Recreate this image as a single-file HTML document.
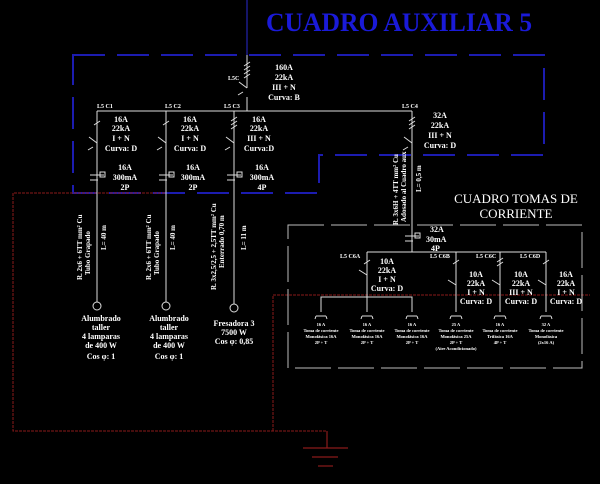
<!DOCTYPE html>
<html><head><meta charset="utf-8"><style>
html,body{margin:0;padding:0;background:#000;}
svg{display:block}
text{font-family:"Liberation Serif",serif;fill:#fff;}
.b text{font-weight:bold}
</style></head><body>
<svg width="600" height="484" viewBox="0 0 600 484" xmlns="http://www.w3.org/2000/svg">
<rect width="600" height="484" fill="#000"/>
<text x="399" y="31" font-size="26" font-weight="bold" text-anchor="middle" textLength="266" lengthAdjust="spacingAndGlyphs" style="fill:#1a1ad8">CUADRO AUXILIAR 5</text>
<line x1="247" y1="0" x2="247" y2="55" stroke="#2a2ad0" stroke-width="1"/>
<path d="M73 55 H544 V155 H319 V193 H73 Z" fill="none" stroke="#1c1cb0" stroke-width="2" stroke-dasharray="32 12"/>
<g fill="none" stroke="#8a1a1a" stroke-width="1" stroke-dasharray="3 1">
<path d="M165 193 H13 V431 H327"/>
<path d="M273 431 V295 H590"/>
</g>
<g stroke="#8a1a1a" stroke-width="1.2">
<line x1="327" y1="431" x2="327" y2="448"/>
<line x1="303" y1="448" x2="348" y2="448"/>
<line x1="312" y1="457" x2="338" y2="457"/>
<line x1="318" y1="466" x2="333" y2="466"/>
</g>
<g stroke="#ddd" stroke-width="1" fill="none">
<line x1="247" y1="55" x2="247" y2="88"/>
<line x1="247" y1="97" x2="247" y2="111"/>
<line x1="97" y1="111" x2="412" y2="111"/>
<line x1="97" y1="111" x2="97" y2="302"/>
<line x1="166" y1="111" x2="166" y2="302"/>
<line x1="234" y1="111" x2="234" y2="304"/>
<line x1="412" y1="111" x2="412" y2="252"/>
<circle cx="97" cy="306" r="4"/>
<circle cx="166" cy="306" r="4"/>
<circle cx="234" cy="308" r="4"/>
<path d="M247 88 l-8 -6 M243 92 l-5 3"/>
<path d="M97 143 l-8 -6 M93 147 l-5 3 M166 143 l-8 -6 M162 147 l-5 3 M234 143 l-8 -6 M230 147 l-5 3 M412 143 l-8 -6 M408 147 l-5 3"/>
<path d="M90 175 h14 M90 180 h8 M159 175 h14 M159 180 h8 M227 175 h14 M227 180 h8"/>
<rect x="100" y="172" width="5" height="5"/><rect x="169" y="172" width="5" height="5"/><rect x="237" y="172" width="5" height="5"/>
<path d="M405 236 h14 M405 241 h8"/><rect x="415" y="233" width="5" height="5"/>
<path d="M244 66 l6 -4 M244 70 l6 -4 M244 74 l6 -4 M244 78 l6 -4"/>
<path d="M94 125 l6 -4 M163 125 l6 -4 M231 121 l6 -4 M231 125 l6 -4 M231 129 l6 -4 M409 121 l6 -4 M409 125 l6 -4 M409 129 l6 -4"/>
<path d="M288 225 H582 V368 H288 Z" stroke="#bbb" stroke-dasharray="36 7"/>
<line x1="367" y1="252" x2="546" y2="252"/>
<line x1="367" y1="252" x2="367" y2="312"/>
<line x1="456" y1="252" x2="456" y2="312"/>
<line x1="500" y1="252" x2="500" y2="312"/>
<line x1="546" y1="252" x2="546" y2="312"/>
<path d="M321 312 V297 H412 V312"/>
<path d="M367 275 l-8 -5 M456 285 l-8 -5 M500 285 l-8 -5 M546 285 l-8 -5"/>
<path d="M364 264 l6 -4 M453 264 l6 -4 M497 262 l6 -4 M497 266 l6 -4 M543 264 l6 -4"/>
<g>
<path d="M316 316 h10 M316 316 l-1 3 M326 316 l1 3"/>
<path d="M362 316 h10 M362 316 l-1 3 M372 316 l1 3"/>
<path d="M407 316 h10 M407 316 l-1 3 M417 316 l1 3"/>
<path d="M451 316 h10 M451 316 l-1 3 M461 316 l1 3"/>
<path d="M495 316 h10 M495 316 l-1 3 M505 316 l1 3"/>
<path d="M541 316 h10 M541 316 l-1 3 M551 316 l1 3"/>
</g>
</g>
<g font-size="8" class="b">
<text x="228" y="80" font-size="6">L5C</text>
<text x="284" y="70" text-anchor="middle">160A</text>
<text x="284" y="80" text-anchor="middle">22kA</text>
<text x="284" y="90" text-anchor="middle">III + N</text>
<text x="284" y="100" text-anchor="middle">Curva: B</text>
<text x="97" y="108" font-size="6">L5 C1</text>
<text x="165" y="108" font-size="6">L5 C2</text>
<text x="224" y="108" font-size="6">L5 C3</text>
<text x="402" y="108" font-size="6">L5 C4</text>
<text x="121" y="122" text-anchor="middle">16A</text><text x="121" y="131" text-anchor="middle">22kA</text><text x="121" y="141" text-anchor="middle">I + N</text><text x="121" y="151" text-anchor="middle">Curva: D</text>
<text x="190" y="122" text-anchor="middle">16A</text><text x="190" y="131" text-anchor="middle">22kA</text><text x="190" y="141" text-anchor="middle">I + N</text><text x="190" y="151" text-anchor="middle">Curva: D</text>
<text x="259" y="122" text-anchor="middle">16A</text><text x="259" y="131" text-anchor="middle">22kA</text><text x="259" y="141" text-anchor="middle">III + N</text><text x="259" y="151" text-anchor="middle">Curva:D</text>
<text x="440" y="118" text-anchor="middle">32A</text><text x="440" y="128" text-anchor="middle">22kA</text><text x="440" y="138" text-anchor="middle">III + N</text><text x="440" y="148" text-anchor="middle">Curva: D</text>
<text x="125" y="170" text-anchor="middle">16A</text><text x="125" y="180" text-anchor="middle">300mA</text><text x="125" y="190" text-anchor="middle">2P</text>
<text x="193" y="170" text-anchor="middle">16A</text><text x="193" y="180" text-anchor="middle">300mA</text><text x="193" y="190" text-anchor="middle">2P</text>
<text x="262" y="170" text-anchor="middle">16A</text><text x="262" y="180" text-anchor="middle">300mA</text><text x="262" y="190" text-anchor="middle">4P</text>
<g font-size="7">
<text transform="translate(82,280) rotate(-90)">R. 2x6 + 6TT mm² Cu</text>
<text transform="translate(90,275) rotate(-90)">Tubo Grapado</text>
<text transform="translate(106,250) rotate(-90)">L= 40 m</text>
<text transform="translate(151,280) rotate(-90)">R. 2x6 + 6TT mm² Cu</text>
<text transform="translate(159,275) rotate(-90)">Tubo Grapado</text>
<text transform="translate(175,250) rotate(-90)">L= 40 m</text>
<text transform="translate(216,290) rotate(-90)">R. 3x2,5/2,5 + 2,5TT mm² Cu</text>
<text transform="translate(224,268) rotate(-90)">Enterrado 0,70 m</text>
<text transform="translate(246,250) rotate(-90)">L= 11 m</text>
<text transform="translate(398,225) rotate(-90)">R. 3x6H + 4TT mm² Cu</text>
<text transform="translate(406,222) rotate(-90)">Adosado al Cuadro aux</text>
<text transform="translate(421,192) rotate(-90)">L= 0,5 m</text>
</g>
<text x="101" y="321" text-anchor="middle">Alumbrado</text><text x="101" y="330" text-anchor="middle">taller</text><text x="101" y="339" text-anchor="middle">4 lamparas</text><text x="101" y="348" text-anchor="middle">de 400 W</text><text x="101" y="359" text-anchor="middle">Cos φ: 1</text>
<text x="169" y="321" text-anchor="middle">Alumbrado</text><text x="169" y="330" text-anchor="middle">taller</text><text x="169" y="339" text-anchor="middle">4 lamparas</text><text x="169" y="348" text-anchor="middle">de 400 W</text><text x="169" y="359" text-anchor="middle">Cos φ: 1</text>
<text x="234" y="326" text-anchor="middle">Fresadora 3</text><text x="234" y="335" text-anchor="middle">7500 W</text><text x="234" y="344" text-anchor="middle">Cos φ: 0,85</text>
<text x="516" y="203" font-size="13" font-weight="normal" style="font-weight:normal" text-anchor="middle">CUADRO TOMAS DE</text>
<text x="516" y="218" font-size="13" style="font-weight:normal" text-anchor="middle">CORRIENTE</text>
<text x="430" y="232">32A</text><text x="426" y="242">30mA</text><text x="431" y="251">4P</text>
<text x="340" y="258" font-size="6">L5 C6A</text>
<text x="430" y="258" font-size="6">L5 C6B</text>
<text x="476" y="258" font-size="6">L5 C6C</text>
<text x="520" y="258" font-size="6">L5 C6D</text>
<text x="387" y="264" text-anchor="middle">10A</text><text x="387" y="273" text-anchor="middle">22kA</text><text x="387" y="282" text-anchor="middle">I + N</text><text x="387" y="291" text-anchor="middle">Curva: D</text>
<text x="476" y="277" text-anchor="middle">10A</text><text x="476" y="286" text-anchor="middle">22kA</text><text x="476" y="295" text-anchor="middle">I + N</text><text x="476" y="304" text-anchor="middle">Curva: D</text>
<text x="521" y="277" text-anchor="middle">10A</text><text x="521" y="286" text-anchor="middle">22kA</text><text x="521" y="295" text-anchor="middle">III + N</text><text x="521" y="304" text-anchor="middle">Curva: D</text>
<text x="566" y="277" text-anchor="middle">16A</text><text x="566" y="286" text-anchor="middle">22kA</text><text x="566" y="295" text-anchor="middle">I + N</text><text x="566" y="304" text-anchor="middle">Curva: D</text>
<g font-size="4.5" text-anchor="middle">
<text x="321" y="326">16 A</text><text x="321" y="332">Toma de corriente</text><text x="321" y="338">Monofásica 16A</text><text x="321" y="344">2P + T</text>
<text x="367" y="326">16 A</text><text x="367" y="332">Toma de corriente</text><text x="367" y="338">Monofásica 16A</text><text x="367" y="344">2P + T</text>
<text x="412" y="326">16 A</text><text x="412" y="332">Toma de corriente</text><text x="412" y="338">Monofásica 16A</text><text x="412" y="344">2P + T</text>
<text x="456" y="326">25 A</text><text x="456" y="332">Toma de corriente</text><text x="456" y="338">Monofásica 25A</text><text x="456" y="344">2P + T</text><text x="456" y="350">(Aire Acondicionado)</text>
<text x="500" y="326">16 A</text><text x="500" y="332">Toma de corriente</text><text x="500" y="338">Trifásica 16A</text><text x="500" y="344">4P + T</text>
<text x="546" y="326">32 A</text><text x="546" y="332">Toma de corriente</text><text x="546" y="338">Monofásica</text><text x="546" y="344">(2x16 A)</text>
</g>
</g>
</svg>
</body></html>
